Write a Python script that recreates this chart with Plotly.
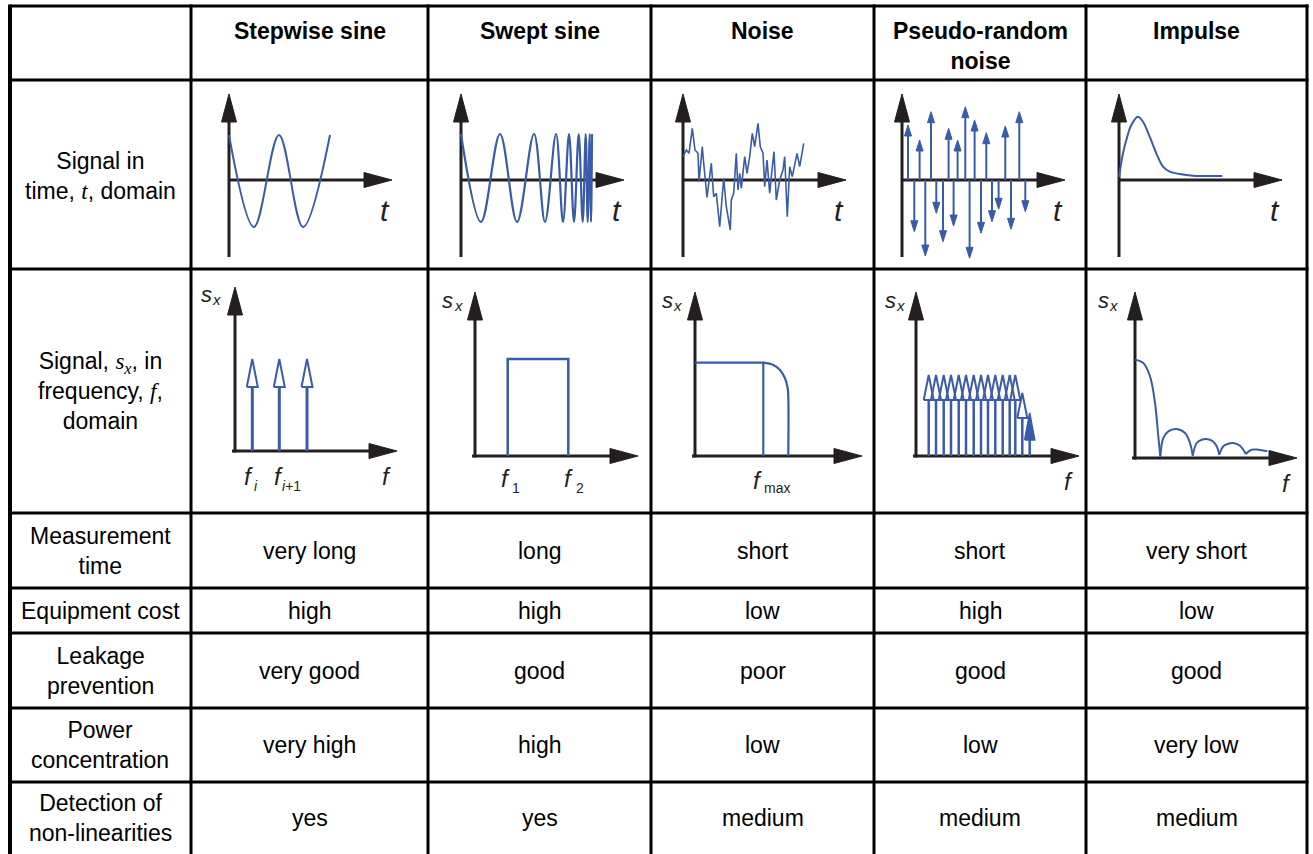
import plotly.graph_objects as go

W, H = 1313, 854
BLUE = "#3a5ba8"
INK = "#231f20"
SANS = "Liberation Sans, Arial, Helvetica, sans-serif"
SERIF_SPAN = "<span style='font-family:Liberation Serif, Times New Roman, serif'><i>{}</i></span>"
TEXT_SIZE = 23

# ---------------- table content ----------------
methods = ["Stepwise sine", "Swept sine", "Noise", "Pseudo-random<br>noise", "Impulse"]
row_labels = [
    "Signal in<br>time, " + SERIF_SPAN.format("t") + ", domain",
    "Signal, " + SERIF_SPAN.format("s<sub>x</sub>") + ", in<br>frequency, " + SERIF_SPAN.format("f") + ",<br>domain",
    "Measurement<br>time",
    "Equipment cost",
    "Leakage<br>prevention",
    "Power<br>concentration",
    "Detection of<br>non-linearities",
]
measurement_time = ["very long", "long", "short", "short", "very short"]
equipment_cost = ["high", "high", "low", "high", "low"]
leakage_prevention = ["very good", "good", "poor", "good", "good"]
power_concentration = ["very high", "high", "low", "low", "very low"]
nonlinearity_detection = ["yes", "yes", "medium", "medium", "medium"]
criteria_values = [measurement_time, equipment_cost, leakage_prevention,
                   power_concentration, nonlinearity_detection]

# ---------------- time-domain signals (t, amplitude) ----------------
stepwise_t = [0, 25, 50, 74, 101]
stepwise_a = [45, -47, 45, -47, 45]

swept_t = [0, 20, 39, 56, 73, 84, 95, 102, 108, 113, 117.7, 121.7, 124.7, 126.7, 128.7, 130, 131]
swept_a = [46, -42, 46, -42, 46, -42, 46, -42, 46, -42, 46, -42, 46, -42, 46, -42, 46]

noise_t = [0, 3.3, 6, 9.3, 12, 15, 16, 19.3, 20.7, 24, 28.3, 30.7, 33.3, 36.7, 40.7, 43.3,
           47.3, 48.3, 50.7, 53.3, 55, 56.7, 58.3, 61.7, 64, 66.7, 69.3, 71.7, 75, 77.3, 80,
           81.7, 84, 86.7, 88.3, 91, 93.3, 96.7, 100, 101.7, 104.3, 106.7, 109.3, 111.7, 114,
           116.7, 118.3, 120.7]
noise_a = [23.3, 30, 26.7, 51.7, 30, 26.7, -1.7, 33.3, 16.7, -17.3, 16.7, -16.7, -13.3, -46.7,
           1.7, -26.7, -50, -20, -13.3, 26.7, -10, 6.7, -8.3, 23.3, 6.7, 23.3, 46.7, 33.3, 56.7,
           33.3, 26.7, -6.7, 20, -13.3, 3.3, 28.3, -20, 0, 10, 23.3, -36.7, 13.3, 3.3, 16.7,
           26.7, 13.3, 23.3, 36.7]

prn_t = [6, 12.3, 17.6, 23.3, 29, 34.3, 41, 46.6, 51.6, 55.6, 63.3, 67.6, 72.6, 79, 84.3,
         90, 96.6, 103.3, 109, 117.3, 123.3]
prn_a = [55, -51.7, 40, -76, 68.3, -33.3, -61.7, 51.7, -46, 40, 73.3, -78.3, 60, -53.3, 47.3,
         -41.7, -29.3, 54, -49.3, 68.3, -31.7]

impulse_t = [0, 4, 7.3, 12.3, 19, 24, 30.7, 37.3, 44, 50.7, 60.7, 74, 87.3, 103.3]
impulse_a = [3, 26.7, 40, 55, 63.3, 58.3, 43.3, 26.7, 13.3, 8.3, 6, 4.3, 4, 4]

# ---------------- frequency-domain spectra (f, s_x) ----------------
stepwise_f = [17.3, 44.3, 72]
stepwise_s = [92, 92, 92]

swept_f = [32.7, 32.7, 93.3, 93.3]
swept_s = [0, 97, 97, 0]

noise_flat_f = [0, 68.3, 68.3]
noise_flat_s = [93.3, 93.3, 0]
noise_roll_f = [68.3, 78.3, 85, 90, 92.7, 93.3, 93.3]
noise_roll_s = [93.3, 91, 86, 77.7, 67.7, 59.3, 0]

prn_f = [12.7, 20, 27.7, 35, 42.7, 50, 57.7, 65, 72, 79.3, 86.7, 93.7, 99.3, 106.3]
prn_s = [81, 81, 81, 81, 81, 81, 81, 81, 81, 81, 81, 81, 81, 63]
prn_last_f = [113.7]
prn_last_s = [43]

impulse_lobes_f = [
    [0, 8.3, 15, 20, 23.3, 25.3],
    [25.3, 28.3, 33.3, 41.7, 50, 55, 57.7],
    [57.7, 61.7, 66.7, 71.7, 77.7, 81.7, 84.3],
    [84.3, 88.3, 93.3, 98.3, 105, 108.3, 110.7],
    [110.7, 116.7, 123.3, 132.3],
]
impulse_lobes_s = [
    [98.3, 95, 81.7, 55, 21.7, 1.5],
    [1.5, 20, 26.7, 29, 25, 15, 2.3],
    [2.3, 15, 18.3, 19, 16.7, 11.7, 3.3],
    [3.3, 11.7, 14.3, 15, 12.3, 8.3, 4],
    [4, 8.3, 8.3, 6.7],
]

# ---------------- geometry (pixels) ----------------
col_edges = [10, 191, 428, 651, 874, 1086, 1307]
row_edges = [6, 80, 269, 513, 588, 633, 708, 782, 854]
row_text_y = [None, 176, 390.5, 551, 610.5, 670.5, 745, 818]
time_origins = [(229, 180), (461, 180), (683, 180), (902, 180), (1119, 180)]
freq_origins = [(235, 451), (475, 456), (695, 456), (916, 456), (1135, 458)]

fig = go.Figure()


def px(x):
    return x / W


def py(y):
    return 1 - y / H


def setup_panel(k, c, top, bot, origin):
    x0, x1 = col_edges[c] + 2, col_edges[c + 1] - 2
    y0, y1 = top + 2, bot - 2
    ox, oy = origin
    xn = "xaxis" if k == 1 else f"xaxis{k}"
    yn = "yaxis" if k == 1 else f"yaxis{k}"
    xr = "x" if k == 1 else f"x{k}"
    yr = "y" if k == 1 else f"y{k}"
    fig.update_layout({
        xn: dict(domain=[px(x0), px(x1)], range=[x0 - ox, x1 - ox], visible=False,
                 fixedrange=True, anchor=yr),
        yn: dict(domain=[py(y1), py(y0)], range=[oy - y1, oy - y0], visible=False,
                 fixedrange=True, anchor=xr),
    })
    return (xr, yr)


def line(ax, xs, ys, color=BLUE, width=2, shape="linear"):
    fig.add_trace(go.Scatter(x=xs, y=ys, mode="lines",
                             line=dict(color=color, width=width, shape=shape),
                             xaxis=ax[0], yaxis=ax[1], hoverinfo="skip", showlegend=False))


def poly(ax, xs, ys, fill, color, width):
    fig.add_trace(go.Scatter(x=xs, y=ys, mode="lines", fill="toself" if fill else "none",
                             fillcolor=fill if fill else None,
                             line=dict(color=color, width=width),
                             xaxis=ax[0], yaxis=ax[1], hoverinfo="skip", showlegend=False))


def draw_axes(ax, xa, xb, ya, yb, hl=28, hw=15):
    line(ax, [0, 0], [ya, yb - hl + 2], INK, 3)
    line(ax, [xa, xb - hl + 2], [0, 0], INK, 3)
    poly(ax, [-hw / 2, hw / 2, 0, -hw / 2, None, xb - hl, xb - hl, xb, xb - hl],
         [yb - hl, yb - hl, yb, yb - hl, None, -hw / 2, hw / 2, 0, -hw / 2], INK, INK, 1)


def stems(ax, pos, amp, hl, hw, fill, lw, hlw):
    sx, sy, hx, hy = [], [], [], []
    for p, a in zip(pos, amp):
        sgn = 1 if a > 0 else -1
        base = a - sgn * hl
        sx += [p, p, None]
        sy += [0, base, None]
        hx += [p - hw / 2, p + hw / 2, p, p - hw / 2, None]
        hy += [base, base, a, base, None]
    line(ax, sx, sy, BLUE, lw)
    poly(ax, hx, hy, fill, BLUE, hlw)


def ann_ax(ax, text, x, y, size, color=INK):
    fig.add_annotation(x=x, y=y, xref=ax[0], yref=ax[1], text=text, showarrow=False,
                       xanchor="center", yanchor="middle",
                       font=dict(family=SANS, size=size, color=color))


# ---------------- time-domain panels ----------------
time_axes = [setup_panel(k + 1, k + 1, row_edges[1], row_edges[2], time_origins[k]) for k in range(5)]
for ax in time_axes:
    draw_axes(ax, 0, 163, -77, 86)
    ann_ax(ax, "<i>t</i>", 156, -30, 30)

line(time_axes[0], stepwise_t, stepwise_a, BLUE, 2, "spline")
line(time_axes[1], swept_t, swept_a, BLUE, 2.2, "spline")
line(time_axes[2], noise_t, noise_a, BLUE, 1.6)
stems(time_axes[3], prn_t, prn_a, 11, 7, BLUE, 2, 1)
line(time_axes[4], impulse_t, impulse_a, BLUE, 2, "spline")

# ---------------- frequency-domain panels ----------------
freq_axes = [setup_panel(k + 6, k + 1, row_edges[2], row_edges[3], freq_origins[k]) for k in range(5)]
freq_tips = [(162, 164), (163, 164), (167, 164), (163, 164), (162, 166)]
sx_pos = [(-28.7, 156.5, -18.3, 151.2), (-27.5, 156, -16.7, 151), (-27.2, 156, -17.2, 151),
          (-25.3, 156, -15.3, 151), (-31.7, 158, -21.7, 153)]
for ax, tip, sp in zip(freq_axes, freq_tips, sx_pos):
    draw_axes(ax, -3, tip[0], -1.5, tip[1])
    ann_ax(ax, "<i>s</i>", sp[0], sp[1], 22)
    ann_ax(ax, "<i>x</i>", sp[2], sp[3], 15)

# stepwise sine spectrum
stems(freq_axes[0], stepwise_f, stepwise_s, 28, 11, "white", 3, 2)
ann_ax(freq_axes[0], "<i>f</i>", 151.7, -25, 24)
ann_ax(freq_axes[0], "<i>f</i>", 13.3, -25, 24)
ann_ax(freq_axes[0], "<i>i</i>", 20.5, -35, 14)
ann_ax(freq_axes[0], "<i>f</i>", 43, -25, 24)
ann_ax(freq_axes[0], "<i>i</i>+1", 56, -35, 14)

# swept sine spectrum
line(freq_axes[1], swept_f, swept_s, BLUE, 2.5)
ann_ax(freq_axes[1], "<i>f</i>", 30.8, -22, 24)
ann_ax(freq_axes[1], "1", 40.5, -32, 14)
ann_ax(freq_axes[1], "<i>f</i>", 93.5, -22, 24)
ann_ax(freq_axes[1], "2", 104.7, -32, 14)

# noise spectrum
line(freq_axes[2], noise_flat_f, noise_flat_s, BLUE, 2.2)
line(freq_axes[2], noise_roll_f, noise_roll_s, BLUE, 2.2, "spline")
ann_ax(freq_axes[2], "<i>f</i>", 62.5, -24, 24)
ann_ax(freq_axes[2], "max", 81.7, -32, 14)

# pseudo-random noise spectrum
stems(freq_axes[3], prn_f, prn_s, 25, 10, None, 2.5, 2)
stems(freq_axes[3], prn_last_f, prn_last_s, 27, 10, BLUE, 2.5, 1.6)
ann_ax(freq_axes[3], "<i>f</i>", 152.3, -25, 24)

# impulse spectrum
for lf, ls in zip(impulse_lobes_f, impulse_lobes_s):
    line(freq_axes[4], lf, ls, BLUE, 2, "spline")
ann_ax(freq_axes[4], "<i>f</i>", 151.7, -25, 24)

# ---------------- table grid ----------------
shapes = []
for i, x in enumerate(col_edges):
    shapes.append(dict(type="line", xref="paper", yref="paper", x0=px(x), x1=px(x),
                       y0=py(row_edges[0] - 1.5), y1=py(H + 2),
                       line=dict(color="black", width=4 if i == 0 else 3)))
for y in row_edges[:-1]:
    shapes.append(dict(type="line", xref="paper", yref="paper", x0=px(col_edges[0]),
                       x1=px(col_edges[-1] + 1.5), y0=py(y), y1=py(y),
                       line=dict(color="black", width=3)))
fig.update_layout(shapes=shapes)

col_centers = [(col_edges[i] + col_edges[i + 1]) / 2 for i in range(len(col_edges) - 1)]

for c, name in enumerate(methods):
    fig.add_annotation(x=px(col_centers[c + 1]), y=py(16), xref="paper", yref="paper",
                       text="<b>" + name + "</b>", showarrow=False, xanchor="center",
                       yanchor="top", align="center",
                       font=dict(family=SANS, size=TEXT_SIZE, color="black"))

for r, label in enumerate(row_labels):
    fig.add_annotation(x=px(col_centers[0]), y=py(row_text_y[r + 1]), xref="paper",
                       yref="paper", text=label, showarrow=False, xanchor="center",
                       yanchor="middle", align="center",
                       font=dict(family=SANS, size=TEXT_SIZE, color="black"))

for r, vals in enumerate(criteria_values):
    for c, v in enumerate(vals):
        fig.add_annotation(x=px(col_centers[c + 1]), y=py(row_text_y[r + 3]), xref="paper",
                           yref="paper", text=v, showarrow=False, xanchor="center",
                           yanchor="middle",
                           font=dict(family=SANS, size=TEXT_SIZE, color="black"))

fig.update_layout(width=W, height=H, margin=dict(l=0, r=0, t=0, b=0),
                  paper_bgcolor="white", plot_bgcolor="rgba(0,0,0,0)", showlegend=False)

fig.write_html("out.html", post_script="document.body.style.margin='0';",
               config={"displayModeBar": False})
